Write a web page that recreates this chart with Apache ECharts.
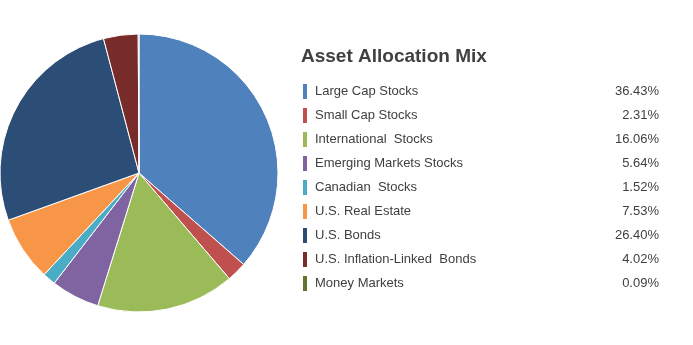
<!DOCTYPE html>
<html>
<head>
<meta charset="utf-8">
<script src="https://cdn.jsdelivr.net/npm/echarts@6/dist/echarts.min.js"></script>
<style>
  html, body { margin: 0; padding: 0; background: #fff; }
  #chart { width: 693px; height: 345px; }
</style>
</head>
<body>
<div id="chart"></div>
<script>
// Asset classes and their allocation weights (percent)
const categories = [
  'Large Cap Stocks',
  'Small Cap Stocks',
  'International  Stocks',
  'Emerging Markets Stocks',
  'Canadian  Stocks',
  'U.S. Real Estate',
  'U.S. Bonds',
  'U.S. Inflation-Linked  Bonds',
  'Money Markets'
];
const weights = [36.43, 2.31, 16.06, 5.64, 1.52, 7.53, 26.40, 4.02, 0.09];
const colors = ['#4F81BD', '#C0504D', '#9BBB59', '#8064A2', '#4BACC6',
                '#F79646', '#2C4D75', '#772C2A', '#5F7530'];

const seriesData = categories.map((name, i) => ({ name: name, value: weights[i] }));
const valueByName = {};
categories.forEach((n, i) => { valueByName[n] = weights[i].toFixed(2) + '%'; });

const FONT = 'Liberation Sans, Arial, sans-serif';

const chart = echarts.init(document.getElementById('chart'), null, { renderer: 'canvas' });
chart.setOption({
  animation: false,
  color: colors,
  title: {
    text: 'Asset Allocation Mix',
    left: 296,
    top: 42,
    textStyle: {
      fontFamily: FONT,
      fontSize: 19,
      fontWeight: 'bold',
      color: '#404040'
    }
  },
  legend: {
    orient: 'vertical',
    left: 298,
    top: 79,
    icon: 'rect',
    itemWidth: 4,
    itemHeight: 15,
    itemGap: 9,
    selectedMode: false,
    itemStyle: { borderWidth: 0 },
    data: categories,
    formatter: name => '{n|' + name + '}{v|' + valueByName[name] + '}',
    textStyle: {
      fontFamily: FONT,
      fontSize: 13,
      color: '#404040',
      rich: {
        n: { width: 300, padding: [0, 0, 0, 3], fontFamily: FONT, fontSize: 13, color: '#404040' },
        v: { width: 44, align: 'right', fontFamily: FONT, fontSize: 13, color: '#404040' }
      }
    }
  },
  series: [{
    type: 'pie',
    center: [139, 173],
    radius: [0, 139],
    startAngle: 90,
    clockwise: true,
    avoidLabelOverlap: false,
    label: { show: false },
    labelLine: { show: false },
    emphasis: { disabled: true },
    itemStyle: { borderColor: '#ffffff', borderWidth: 1 },
    data: seriesData
  }]
});
</script>
</body>
</html>
